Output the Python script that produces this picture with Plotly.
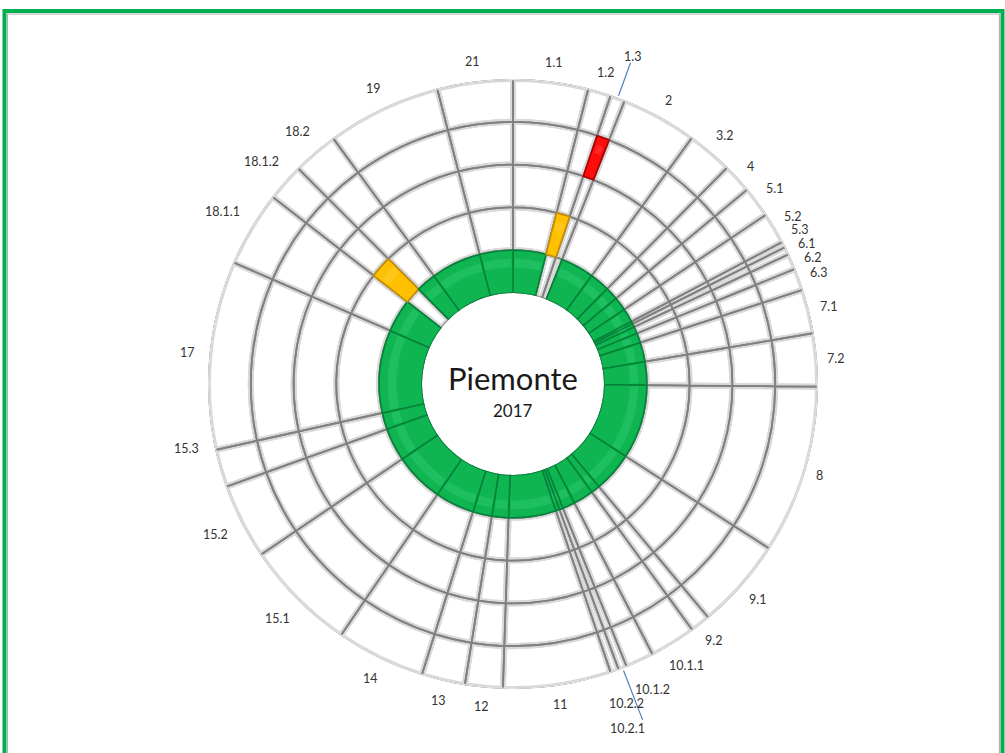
import math
import plotly.graph_objects as go

# --- data -----------------------------------------------------------------
categories = ["1.1", "1.2", "1.3", "2", "3.2", "4", "5.1", "5.2", "5.3", "6.1",
              "6.2", "6.3", "7.1", "7.2", "8", "9.1", "9.2", "10.1.1", "10.1.2",
              "10.2.1", "10.2.2", "11", "12", "13", "14", "15.1", "15.2", "15.3",
              "17", "18.1.1", "18.1.2", "18.2", "19", "21"]

# angular share of each sector, in degrees (sums to 360)
shares = [14.3, 4.4, 2.8, 14.5, 8.7, 5.6, 5.9, 6.0, 1.1, 1.5,
          3.0, 4.2, 8.4, 10.1, 32.2, 17.4, 3.8, 8.8, 5.4,
          1.6, 1.6, 20.6, 7.2, 8.3, 17.0, 21.5, 14.4, 7.2,
          36.0, 14.4, 7.2, 8.7, 21.8, 14.4]

# ring (1 = innermost) in which each sector is coloured
levels = [1, 2, 4, 1, 1, 1, 1, 1, 1, 1,
          1, 1, 1, 1, 1, 1, 1, 1, 1,
          1, 1, 1, 1, 1, 1, 1, 1, 1,
          1, 1, 2, 1, 1, 1]

status = ["verde", "giallo", "rosso", "verde", "verde", "verde", "verde", "verde", "verde", "verde",
          "verde", "verde", "verde", "verde", "verde", "verde", "verde", "verde", "verde",
          "verde", "verde", "verde", "verde", "verde", "verde", "verde", "verde", "verde",
          "verde", "verde", "giallo", "verde", "verde", "verde"]

title_text = "Piemonte"
subtitle_text = "2017"

# labels pulled outwards with a leader line:
# (leader length px, extra label distance px, angle shift deg)
leaders = {"1.3": (34, 23, 0.0), "10.2.1": (52, 35, 2.7)}
# labels nudged along the rim (deg) and outwards (px)
label_nudge = {"15.3": 5.0}
label_push = {"10.1.2": 7, "10.2.2": 11}

# --- layout constants -----------------------------------------------------
W, H = 1005, 753
CX, CY = 513, 384          # centre of the dial (px from top-left)
R_PX = 305                 # outer radius (px)
HOLE_PX = 91               # radius of the white centre (px)
N_RINGS = 5
LABEL_FONT = 12.5

fill = {"verde": "#0fb552", "giallo": "#ffc000", "rosso": "#ff0d0d"}
edge = {"verde": "#07823a", "giallo": "#c98f00", "rosso": "#b00000"}
light = {"verde": "#3ed27c", "giallo": "#ffd54d", "rosso": "#ff5a5a"}

mids = []
acc = 0.0
for w in shares:
    mids.append(acc + w / 2)
    acc += w

fig = go.Figure()

# grid of white cells
th_all, w_all, b_all = [], [], []
for k in range(N_RINGS):
    th_all += mids
    w_all += shares
    b_all += [k] * len(mids)
r_all = [1] * len(th_all)

fig.add_trace(go.Barpolar(theta=th_all, r=r_all, base=b_all, width=w_all,
                          marker=dict(color="white", line=dict(width=0)),
                          hoverinfo="skip", showlegend=False))
# soft shadow under each cell edge
fig.add_trace(go.Barpolar(theta=th_all, r=r_all, base=b_all, width=w_all,
                          marker=dict(color="rgba(0,0,0,0)",
                                      line=dict(color="#d9d9d9", width=6)),
                          hoverinfo="skip", showlegend=False))
# crisp edge
fig.add_trace(go.Barpolar(theta=th_all, r=r_all, base=b_all, width=w_all,
                          marker=dict(color="rgba(0,0,0,0)",
                                      line=dict(color="#808080", width=1.8)),
                          hoverinfo="skip", showlegend=False))

# coloured cells
fig.add_trace(go.Barpolar(theta=mids, r=[1] * len(mids), base=[lv - 1 for lv in levels],
                          width=shares,
                          marker=dict(color=[fill[s] for s in status],
                                      line=dict(color=[edge[s] for s in status], width=1.6)),
                          hoverinfo="skip", showlegend=False))
# highlight band on coloured cells
fig.add_trace(go.Barpolar(theta=mids, r=[0.2] * len(mids), base=[lv - 0.4 for lv in levels],
                          width=[max(w - 1.6, w * 0.5) for w in shares],
                          marker=dict(color=[light[s] for s in status], line=dict(width=0)),
                          opacity=0.35, hoverinfo="skip", showlegend=False))

# light outer rim
rim = [i * 0.5 for i in range(721)]
fig.add_trace(go.Scatterpolar(theta=rim, r=[N_RINGS] * len(rim), mode="lines",
                              line=dict(color="#e4e4e4", width=2.5),
                              hoverinfo="skip", showlegend=False))


# --- sector labels ----------------------------------------------------------
def text_size(t):
    w = 0.58 * LABEL_FONT * sum(c.isdigit() for c in t) + 0.25 * LABEL_FONT * t.count(".")
    return w, 13.0


def polar_px(rp, ang):
    a = math.radians(ang)
    return CX + rp * math.sin(a), CY - rp * math.cos(a)


def center_px(t, ang, extra=0.0):
    w, h = text_size(t)
    a = math.radians(ang)
    ext = abs(math.sin(a)) * w / 2 + abs(math.cos(a)) * h / 2
    gap = 12 - 2.5 * math.sin(a)
    rp = R_PX + gap + ext + extra + label_push.get(t, 0)
    x, y = polar_px(rp, ang)
    return rp, x, y


lab_ang = {c: m + label_nudge.get(c, 0.0) for c, m in zip(categories, mids)}
free = [c for c in categories if c not in leaders]
# spread crowded labels apart
for _ in range(800):
    moved = False
    for i in range(len(free) - 1):
        a, b = free[i], free[i + 1]
        _, xa, ya = center_px(a, lab_ang[a])
        _, xb, yb = center_px(b, lab_ang[b])
        wa, ha = text_size(a)
        wb, hb = text_size(b)
        if abs(xa - xb) < (wa + wb) / 2 + 1 and abs(ya - yb) < 13.5:
            lab_ang[a] -= 0.05
            lab_ang[b] += 0.05
            moved = True
    if not moved:
        break

annotations = []
shapes = []
for i, c in enumerate(categories):
    if c in leaders:
        length, extra, shift = leaders[c]
        x0, y0 = polar_px(R_PX + 2, mids[i])
        x1, y1 = polar_px(R_PX + length + 3, mids[i])
        shapes.append(dict(type="line", xref="paper", yref="paper",
                           x0=x0 / W, y0=1 - y0 / H, x1=x1 / W, y1=1 - y1 / H,
                           line=dict(color="#4f81bd", width=1.2)))
        _, x, y = center_px(c, mids[i] + shift, extra)
    else:
        _, x, y = center_px(c, lab_ang[c])
    annotations.append(dict(x=x / W, y=1 - y / H, xref="paper", yref="paper", text=c,
                            showarrow=False, xanchor="center", yanchor="middle",
                            font=dict(family="Lato", size=LABEL_FONT, color="#333333")))

annotations += [
    dict(x=CX / W, y=1 - 378 / H, xref="paper", yref="paper", text=title_text,
         showarrow=False, font=dict(family="Lato", size=31, color="#1a1a1a")),
    dict(x=CX / W, y=1 - 411 / H, xref="paper", yref="paper", text=subtitle_text,
         showarrow=False, font=dict(family="Lato", size=17, color="#1a1a1a")),
]

shapes += [
    dict(type="rect", xref="paper", yref="paper", x0=4.5 / W, x1=1002.5 / W,
         y0=-0.02, y1=1 - 11 / H, line=dict(color="#00b050", width=4)),
    dict(type="rect", xref="paper", yref="paper", x0=7.5 / W, x1=999.5 / W,
         y0=-0.02, y1=1 - 14 / H, line=dict(color="#b0b0b0", width=1.2)),
]

dom_x = [(CX - R_PX) / W, (CX + R_PX) / W]
dom_y = [(H - CY - R_PX) / H, (H - CY + R_PX) / H]

fig.update_layout(
    width=W, height=H,
    margin=dict(l=0, r=0, t=0, b=0),
    paper_bgcolor="white",
    showlegend=False,
    polar=dict(
        domain=dict(x=dom_x, y=dom_y),
        hole=HOLE_PX / R_PX,
        bgcolor="white",
        barmode="overlay",
        angularaxis=dict(rotation=90, direction="clockwise", showgrid=False,
                         showticklabels=False, showline=False, ticks=""),
        radialaxis=dict(range=[0, N_RINGS], visible=False, showgrid=False),
    ),
    annotations=annotations,
    shapes=shapes,
)

fig.write_html("out.html")
